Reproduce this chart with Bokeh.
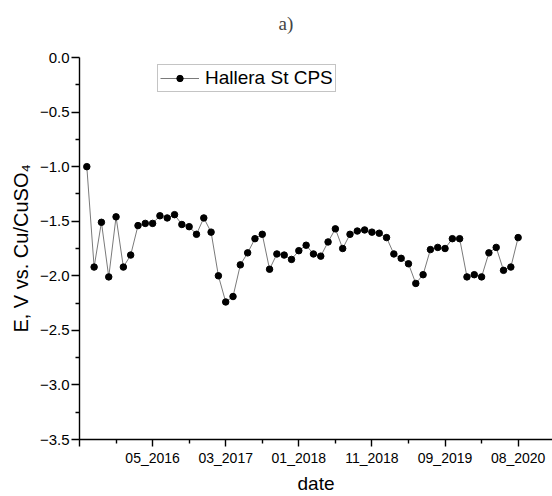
from bokeh.plotting import figure
from bokeh.models import Range1d, FixedTicker, Legend, LegendItem, LinearAxis
from bokeh.embed import file_html
from bokeh.resources import INLINE

# ---- data ----
index = list(range(1, 61))
potential = [-1.00, -1.92, -1.51, -2.01, -1.46, -1.92, -1.81, -1.54, -1.52, -1.52,
             -1.45, -1.47, -1.44, -1.53, -1.55, -1.62, -1.47, -1.60, -2.00, -2.24,
             -2.19, -1.90, -1.79, -1.66, -1.62, -1.94, -1.80, -1.81, -1.85, -1.77,
             -1.72, -1.80, -1.82, -1.69, -1.57, -1.75, -1.62, -1.59, -1.58, -1.60,
             -1.61, -1.65, -1.80, -1.84, -1.89, -2.07, -1.99, -1.76, -1.74, -1.75,
             -1.66, -1.66, -2.01, -1.99, -2.01, -1.79, -1.74, -1.95, -1.92, -1.65]
x_ticks = [0, 10, 20, 30, 40, 50, 60]
x_tick_labels = ["", "05_2016", "03_2017", "01_2018", "11_2018", "09_2019", "08_2020"]
x_minor = [5, 15, 25, 35, 45, 55, 65]
y_ticks = [-3.5, -3.0, -2.5, -2.0, -1.5, -1.0, -0.5, 0.0]
y_tick_labels = ["\u22123.5", "\u22123.0", "\u22122.5", "\u22122.0", "\u22121.5",
                 "\u22121.0", "\u22120.5", "0.0"]
y_minor = [-3.25, -2.75, -2.25, -1.75, -1.25, -0.75, -0.25]
series_name = "Hallera St CPS"

W, H = 552, 496
FONT = "Liberation Sans"

p = figure(width=W, height=H, output_backend="svg", toolbar_location=None,
           x_range=Range1d(0, 64.7), y_range=Range1d(-3.5, 0.0),
           min_border_left=79, min_border_right=0, min_border_top=57,
           min_border_bottom=56)
p.outline_line_color = None
p.xgrid.visible = False
p.ygrid.visible = False

xax = p.below[0]
yax = p.left[0]

# invisible spacer between frame and title (pushes the title up)
spacer = LinearAxis(ticker=FixedTicker(ticks=[30], minor_ticks=[]),
                    major_label_overrides={30: ""},
                    axis_line_color=None, major_tick_line_color=None,
                    minor_tick_line_color=None, major_tick_out=22, minor_tick_out=0,
                    major_tick_in=0, minor_tick_in=0, major_label_standoff=0,
                    major_label_text_font_size="1px")
p.add_layout(spacer, "above")

# title
p.title.text = "a)"
p.title.text_font = "Liberation Serif"
p.title.text_font_style = "normal"
p.title.text_font_size = "19px"
p.title.align = "left"
p.title.offset = 199
p.title.vertical_align = "top"
p.title.standoff = 0

line_r = p.line(index, potential, line_color="#7a7a7a", line_width=1)
dot_r = p.scatter(index, potential, size=6.5, fill_color="black", line_color="black")
legend_dot = p.scatter(x=[float("nan")], y=[float("nan")], size=4.5,
                       fill_color="black", line_color="black")

# axes
for ax in (xax, yax):
    ax.axis_line_width = 1.4
    ax.major_tick_line_width = 1.4
    ax.minor_tick_line_width = 1.4
    ax.axis_line_color = "black"
    ax.major_tick_line_color = "black"
    ax.minor_tick_line_color = "black"
    ax.major_label_text_font = FONT
    ax.major_label_text_color = "black"
    ax.major_tick_in = 0
    ax.minor_tick_in = 0
    ax.axis_label_text_font = FONT
    ax.axis_label_text_font_style = "normal"
    ax.axis_label_text_color = "black"

xax.ticker = FixedTicker(ticks=x_ticks, minor_ticks=x_minor)
xax.major_label_overrides = {t: l for t, l in zip(x_ticks, x_tick_labels)}
xax.major_label_text_font_size = "14px"
xax.major_tick_out = 7
xax.minor_tick_out = 4
xax.major_label_standoff = 3
xax.axis_label = "date"
xax.axis_label_text_font_size = "19px"
xax.axis_label_standoff = 4

yax.ticker = FixedTicker(ticks=y_ticks, minor_ticks=y_minor)
yax.major_label_overrides = {t: l for t, l in zip(y_ticks, y_tick_labels)}
yax.major_label_text_font_size = "15px"
yax.major_tick_out = 8
yax.minor_tick_out = 4
yax.major_label_standoff = 2
yax.axis_label = "E, V vs. Cu/CuSO\u2084"
yax.axis_label_text_font_size = "20px"
yax.axis_label_standoff = 5

# legend
legend = Legend(items=[LegendItem(label=series_name, renderers=[line_r, legend_dot])],
                location=(78, 347), orientation="vertical")
legend.label_text_font = FONT
legend.label_text_font_size = "19px"
legend.label_text_color = "black"
legend.border_line_color = "#8a8a8a"
legend.border_line_width = 1
legend.background_fill_color = "white"
legend.background_fill_alpha = 1
legend.padding = 2
legend.margin = 0
legend.spacing = 0
legend.glyph_width = 39
legend.glyph_height = 16
legend.label_standoff = 6
legend.label_height = 16
p.add_layout(legend, "center")

open("out.html", "w").write(file_html(p, INLINE))
